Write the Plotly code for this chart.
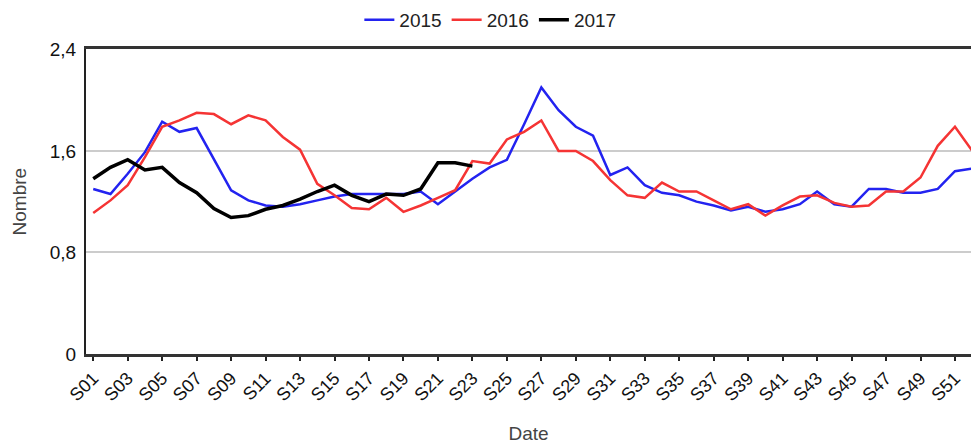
import plotly.graph_objects as go

weeks = [f"S{i:02d}" for i in range(1, 53)]
tick_labels = [f"S{i:02d}" for i in range(1, 53, 2)]

y2015 = [1.30, 1.26, 1.42, 1.59, 1.83, 1.75, 1.78, 1.54, 1.29, 1.21,
         1.17, 1.16, 1.18, 1.21, 1.24, 1.26, 1.26, 1.26, 1.26, 1.28,
         1.18, 1.28, 1.38, 1.47, 1.53, 1.81, 2.10, 1.92, 1.79, 1.72,
         1.41, 1.47, 1.33, 1.27, 1.25, 1.20, 1.17, 1.13, 1.16, 1.12,
         1.14, 1.18, 1.28, 1.18, 1.16, 1.30, 1.30, 1.27, 1.27, 1.30,
         1.44, 1.46]
y2016 = [1.11, 1.21, 1.33, 1.55, 1.79, 1.84, 1.90, 1.89, 1.81, 1.88,
         1.84, 1.71, 1.61, 1.34, 1.25, 1.15, 1.14, 1.23, 1.12, 1.17,
         1.23, 1.29, 1.52, 1.50, 1.69, 1.75, 1.84, 1.60, 1.60, 1.52,
         1.37, 1.25, 1.23, 1.35, 1.28, 1.28, 1.21, 1.14, 1.18, 1.09,
         1.17, 1.24, 1.25, 1.19, 1.16, 1.17, 1.28, 1.28, 1.39, 1.64,
         1.79, 1.60]
y2017 = [1.38, 1.47, 1.53, 1.45, 1.47, 1.35, 1.27, 1.145, 1.075, 1.09,
         1.14, 1.17, 1.22, 1.28, 1.33, 1.25, 1.20, 1.26, 1.25, 1.30,
         1.506, 1.506, 1.48]

x_range = [-0.42, 50.93]

fig = go.Figure()
fig.add_trace(go.Scatter(x=weeks, y=y2015, mode="lines", name="2015",
                         line=dict(color="#2323f0", width=2.5)))
fig.add_trace(go.Scatter(x=weeks, y=y2016, mode="lines", name="2016",
                         line=dict(color="#f53434", width=2.5)))
fig.add_trace(go.Scatter(x=weeks[:len(y2017)], y=y2017, mode="lines", name="2017",
                         line=dict(color="#000000", width=3.5)))

fig.update_layout(
    width=971, height=444,
    margin=dict(l=86, r=0, t=44, b=90),
    paper_bgcolor="white", plot_bgcolor="white",
    font=dict(family="Liberation Sans, Arial", size=17, color="#222"),
    legend=dict(orientation="h", xref="container", yref="container",
                x=0.505, xanchor="center", y=0.955, yanchor="middle",
                font=dict(size=19, color="#222"), itemwidth=30,
                bgcolor="rgba(0,0,0,0)"),
    xaxis=dict(
        type="category", categoryorder="array", categoryarray=weeks,
        range=x_range,
        tickmode="array", tickvals=tick_labels, ticktext=tick_labels,
        tickangle=-45, ticks="outside", ticklen=4, tickwidth=1.5, tickcolor="#222",
        showline=True, linecolor="#333", linewidth=2.5, mirror=True,
        showgrid=False, zeroline=False,
        title=dict(text="Date", font=dict(size=19, color="#444"), standoff=24),
        tickfont=dict(size=18, color="#111"),
    ),
    xaxis2=dict(
        type="category", categoryorder="array", categoryarray=weeks,
        overlaying="x", anchor="y", range=x_range,
        tickmode="array", tickvals=tick_labels,
        ticks="inside", ticklen=4, tickwidth=1.5, tickcolor="#222",
        showticklabels=False, showline=False, showgrid=False, zeroline=False,
    ),
    yaxis=dict(
        range=[0, 2.4], tickmode="array",
        tickvals=[0, 0.8, 1.6, 2.4], ticktext=["0", "0,8", "1,6", "2,4"],
        ticks="", ticklabelstandoff=4,
        showline=True, linecolor="#222", linewidth=2,
        showgrid=True, gridcolor="#cccccc", gridwidth=2, zeroline=False,
        title=dict(text="Nombre", font=dict(size=19, color="#444"), standoff=18),
        tickfont=dict(size=19, color="#111"),
    ),
)

fig.write_html("out.html", config={"displayModeBar": False},
               post_script="document.body.style.margin='0px';document.body.style.overflow='hidden';")
